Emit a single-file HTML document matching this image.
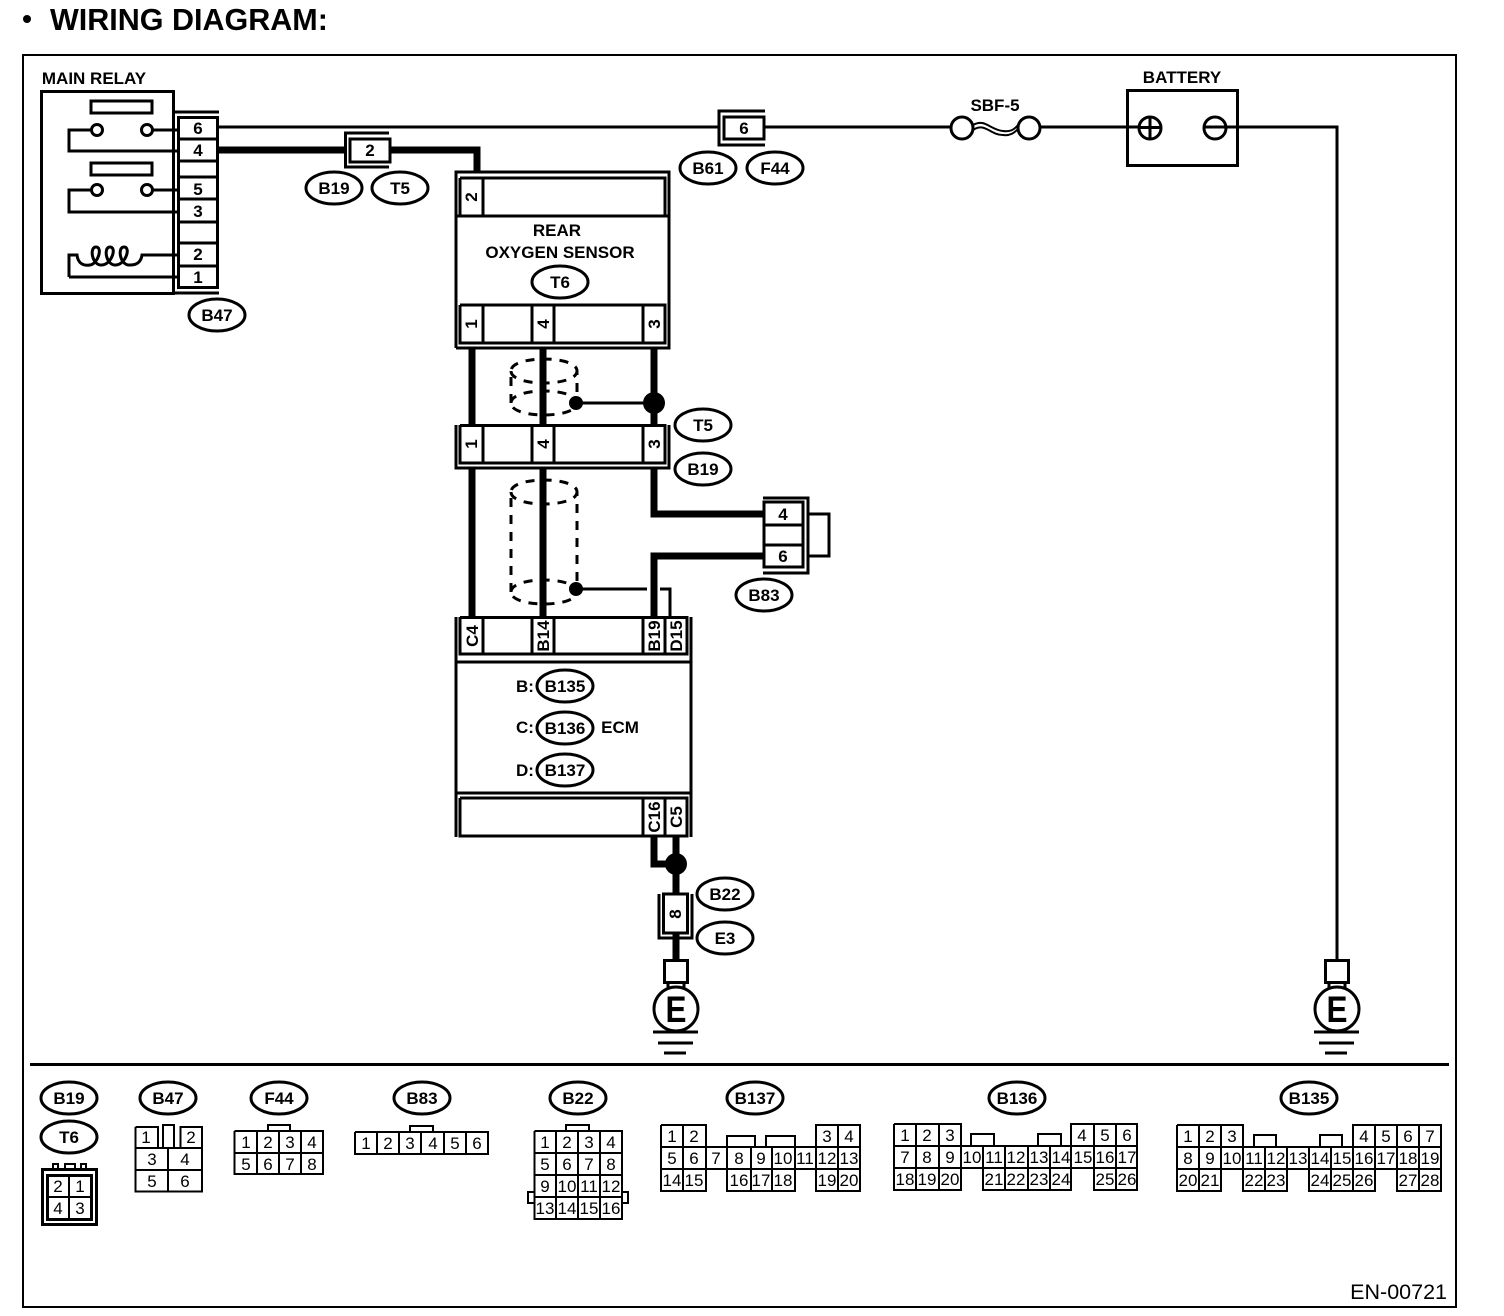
<!DOCTYPE html>
<html><head><meta charset="utf-8"><style>
html,body{margin:0;padding:0;background:#fff}
svg{display:block}
text{font-family:"Liberation Sans",sans-serif;fill:#000;text-anchor:middle}
.b{font-weight:bold;font-size:17px}
.n{font-size:17px}
.s{fill:none;stroke:#000;stroke-width:3}
.t{fill:none;stroke:#000;stroke-width:2}
.w{fill:none;stroke:#000;stroke-width:7}
.d{fill:none;stroke:#000;stroke-width:3;stroke-dasharray:9 8}
ellipse.o{fill:#fff;stroke:#000;stroke-width:3}
</style></head><body>
<svg xmlns="http://www.w3.org/2000/svg" width="1504" height="1316" viewBox="0 0 1504 1316">
<rect width="1504" height="1316" fill="#fff"/>
<circle cx="27" cy="19" r="4"/>
<text x="50" y="30" style="text-anchor:start;font-weight:bold;font-size:30.500px">WIRING DIAGRAM:</text>
<rect x="23" y="55" width="1433" height="1252" class="t"/>
<line x1="30" y1="1064.5" x2="1449" y2="1064.5" stroke="#000" stroke-width="3"/>
<text x="1447" y="1299" style="text-anchor:end;font-size:21.500px">EN-00721</text>

<!-- Wires -->
<path class="s" d="M218 127H720M765 127H950M1039 127H1139M1204 127H1337V960"/>
<path class="w" d="M218 150H346M390 150H477V172"/>
<path class="w" d="M472 348V425M472 469V618M543 348V425M543 469V618M654 348V425"/>
<path class="w" d="M654 469V514H764M764 556H654V618M654 837V864H676M676 837V960"/>
<circle cx="654" cy="403" r="11"/><circle cx="576" cy="403" r="7"/><circle cx="576" cy="589" r="7"/><circle cx="676" cy="864" r="11"/>
<path class="s" d="M576 403H654M576 589H647M660 589H670V618"/>
<path class="d" d="M511 403V371C511 355 577 355 577 371V403M511 371C511 387 577 387 577 371M511 403C511 387 577 387 577 403C577 419 511 419 511 403"/>
<path class="d" d="M511 592V492C511 476 577 476 577 492V592M511 492C511 508 577 508 577 492M511 592C511 576 577 576 577 592C577 608 511 608 511 592"/>

<!-- Main relay -->
<text x="94" y="84" class="b">MAIN RELAY</text>
<rect x="41.500" y="91.500" width="132" height="202" fill="#fff" stroke="#000" stroke-width="3"/>
<rect x="91" y="101" width="61" height="12" class="s"/>
<rect x="91" y="163" width="61" height="12" class="s"/>
<path class="s" d="M92 130H69V151H177M152 130H177M92 190H69V212H177M152 190H177M69 277H177M69 277V255H77C78 264 84 266 90 265C98 264 103 247 96 247C89 247 92 266 102 265C112 264 117 247 110 247C103 247 106 266 116 265C126 264 131 247 124 247C117 247 120 266 130 265C137 265 141 262 142 255H177"/>
<circle cx="97" cy="130" r="5.500" fill="#fff" stroke="#000" stroke-width="3"/><circle cx="147" cy="130" r="5.500" fill="#fff" stroke="#000" stroke-width="3"/>
<circle cx="97" cy="190" r="5.500" fill="#fff" stroke="#000" stroke-width="3"/><circle cx="147" cy="190" r="5.500" fill="#fff" stroke="#000" stroke-width="3"/>
<path class="s" d="M174 112H219M174 293H219"/>
<rect x="178.500" y="117.500" width="39" height="170" fill="#fff" stroke="#000" stroke-width="3"/>
<path class="s" d="M178 139H218M178 161H218M178 177H218M178 199H218M178 222H218M178 243H218M178 266H218"/>
<text x="198" y="134" class="b">6</text><text x="198" y="156" class="b">4</text><text x="198" y="195" class="b">5</text><text x="198" y="217" class="b">3</text><text x="198" y="260" class="b">2</text><text x="198" y="283" class="b">1</text>

<!-- Connector 2 -->
<path class="s" d="M389 133H345.500V167H389"/>
<rect x="350" y="139" width="40" height="23" fill="#fff" stroke="#000" stroke-width="3"/>
<text x="370" y="156" class="b">2</text>
<!-- Connector 6 -->
<path class="s" d="M765 111H719V145H765"/>
<rect x="724" y="117" width="40" height="22" fill="#fff" stroke="#000" stroke-width="3"/>
<text x="744" y="134" class="b">6</text>

<!-- Fuse -->
<circle cx="962" cy="128" r="11" fill="#fff" stroke="#000" stroke-width="3"/>
<circle cx="1029" cy="128" r="11" fill="#fff" stroke="#000" stroke-width="3"/>
<path class="t" d="M973 125C985 118 990 130 1003 131C1010 132 1014 130 1018 125M973 130C985 122 990 135 1003 135C1010 136 1014 133 1018 129"/>
<text x="995" y="111" class="b">SBF-5</text>
<!-- Battery -->
<text x="1182" y="83" class="b">BATTERY</text>
<rect x="1127.500" y="90.500" width="110" height="75" class="s"/>
<circle cx="1150" cy="128" r="11" class="s"/><path class="s" d="M1150 117V139M1139 127.500H1161"/>
<circle cx="1215" cy="128" r="11" class="s"/>

<!-- Rear O2 sensor -->
<path class="s" d="M456 348V172H669V348H456M460 178H665V216H460V178M483 178V216M456 216H669M460 305H665V343H460V305M483 305V343M532 305V343M554 305V343M643 305V343"/>
<text class="b" transform="translate(471 197) rotate(-90)" y="6">2</text>
<text x="557" y="236" class="b">REAR</text>
<text x="560" y="258" class="b">OXYGEN SENSOR</text>
<text class="b" transform="translate(471 324) rotate(-90)" y="6">1</text>
<text class="b" transform="translate(543 324) rotate(-90)" y="6">4</text>
<text class="b" transform="translate(654 324) rotate(-90)" y="6">3</text>

<!-- T5/B19 -->
<path class="s" d="M456 425V468H669V425M460 425.500H665V463H460V425M483 425V463M532 425V463M554 425V463M643 425V463"/>
<text class="b" transform="translate(471 444) rotate(-90)" y="6">1</text>
<text class="b" transform="translate(543 444) rotate(-90)" y="6">4</text>
<text class="b" transform="translate(654 444) rotate(-90)" y="6">3</text>

<!-- B83 -->
<path class="s" d="M763 498H808V573H763"/>
<rect x="764" y="502" width="39" height="65" fill="#fff" stroke="#000" stroke-width="3"/>
<path class="s" d="M764 525H803M764 545H803"/>
<rect x="808" y="514" width="21" height="42" class="s"/>
<text x="783" y="520" class="b">4</text><text x="783" y="562" class="b">6</text>

<!-- ECM -->
<path class="s" d="M456 617V837M691 617V837M456 662H691M456 793H691"/>
<path class="s" d="M460 617.500H687V654H460V617M483 617V654M532 617V654M554 617V654M643 617V654M665 617V654"/>
<path class="s" d="M460 798H687V836H460V798M643 798V836M665 798V836"/>
<text class="b" transform="translate(472 636) rotate(-90)" y="6">C4</text>
<text class="b" transform="translate(543 636) rotate(-90)" y="6">B14</text>
<text class="b" transform="translate(654 636) rotate(-90)" y="6">B19</text>
<text class="b" transform="translate(676 636) rotate(-90)" y="6">D15</text>
<text class="b" transform="translate(654 817) rotate(-90)" y="6">C16</text>
<text class="b" transform="translate(676 817) rotate(-90)" y="6">C5</text>
<text x="525" y="692" class="b">B:</text><text x="525" y="733" class="b">C:</text><text x="525" y="776" class="b">D:</text>
<text x="620" y="733" class="b">ECM</text>

<!-- Connector 8 -->
<path class="s" d="M659 894V938H692V894"/>
<rect x="663.500" y="894" width="24" height="39" fill="#fff" stroke="#000" stroke-width="3"/>
<text class="b" transform="translate(675 914) rotate(-90)" y="6">8</text>

<!-- Grounds -->
<rect x="664.500" y="960.500" width="23" height="22" fill="#fff" stroke="#000" stroke-width="3"/>
<path class="s" d="M668 982V990M684 982V990"/>
<circle cx="676" cy="1009" r="22" fill="#fff" stroke="#000" stroke-width="3"/>
<text transform="translate(676 1022) scale(.85 1)" style="font-weight:bold;font-size:37px">E</text>
<path class="s" d="M653 1032H698M658 1043H693M664 1053H686"/>
<rect x="1325.500" y="960.500" width="23" height="22" fill="#fff" stroke="#000" stroke-width="3"/>
<path class="s" d="M1329 982V990M1345 982V990"/>
<circle cx="1337" cy="1009" r="22" fill="#fff" stroke="#000" stroke-width="3"/>
<text transform="translate(1337 1022) scale(.85 1)" style="font-weight:bold;font-size:37px">E</text>
<path class="s" d="M1314 1032H1359M1319 1043H1354M1325 1053H1347"/>

<!-- Ovals -->
<ellipse class="o" cx="334" cy="188" rx="28" ry="16"/><text x="334" y="194" class="b">B19</text>
<ellipse class="o" cx="400" cy="188" rx="28" ry="16"/><text x="400" y="194" class="b">T5</text>
<ellipse class="o" cx="217" cy="315" rx="28" ry="16"/><text x="217" y="321" class="b">B47</text>
<ellipse class="o" cx="708" cy="168" rx="28" ry="16"/><text x="708" y="174" class="b">B61</text>
<ellipse class="o" cx="775" cy="168" rx="28" ry="16"/><text x="775" y="174" class="b">F44</text>
<ellipse class="o" cx="560" cy="282" rx="28" ry="16"/><text x="560" y="288" class="b">T6</text>
<ellipse class="o" cx="703" cy="425" rx="28" ry="16"/><text x="703" y="431" class="b">T5</text>
<ellipse class="o" cx="703" cy="469" rx="28" ry="16"/><text x="703" y="475" class="b">B19</text>
<ellipse class="o" cx="764" cy="595" rx="28" ry="16"/><text x="764" y="601" class="b">B83</text>
<ellipse class="o" cx="565" cy="686" rx="28" ry="16"/><text x="565" y="692" class="b">B135</text>
<ellipse class="o" cx="565" cy="728" rx="28" ry="16"/><text x="565" y="734" class="b">B136</text>
<ellipse class="o" cx="565" cy="770" rx="28" ry="16"/><text x="565" y="776" class="b">B137</text>
<ellipse class="o" cx="725" cy="894" rx="28" ry="16"/><text x="725" y="900" class="b">B22</text>
<ellipse class="o" cx="725" cy="938" rx="28" ry="16"/><text x="725" y="944" class="b">E3</text>
<ellipse class="o" cx="69" cy="1098" rx="28" ry="16"/><text x="69" y="1104" class="b">B19</text>
<ellipse class="o" cx="69" cy="1137" rx="28" ry="16"/><text x="69" y="1143" class="b">T6</text>
<ellipse class="o" cx="168" cy="1098" rx="28" ry="16"/><text x="168" y="1104" class="b">B47</text>
<ellipse class="o" cx="279" cy="1098" rx="28" ry="16"/><text x="279" y="1104" class="b">F44</text>
<ellipse class="o" cx="422" cy="1098" rx="28" ry="16"/><text x="422" y="1104" class="b">B83</text>
<ellipse class="o" cx="578" cy="1098" rx="28" ry="16"/><text x="578" y="1104" class="b">B22</text>
<ellipse class="o" cx="755" cy="1098" rx="28" ry="16"/><text x="755" y="1104" class="b">B137</text>
<ellipse class="o" cx="1017" cy="1098" rx="28" ry="16"/><text x="1017" y="1104" class="b">B136</text>
<ellipse class="o" cx="1309" cy="1098" rx="28" ry="16"/><text x="1309" y="1104" class="b">B135</text>

<!-- T6 view -->
<rect x="42.500" y="1169.500" width="54" height="55" class="s"/>
<rect x="47.500" y="1175.500" width="44" height="44" class="s"/>
<path class="t" d="M69 1175V1220M47 1197H92M53 1169V1164H58V1169M65 1169V1164H75V1169M81 1169V1164H86V1169"/>
<text x="58" y="1192" class="n">2</text><text x="80" y="1192" class="n">1</text><text x="58" y="1214" class="n">4</text><text x="80" y="1214" class="n">3</text>

<!-- B47 view -->
<path class="t" d="M135.500 1127H158V1148M135.500 1127V1191.500H202V1127H180.500V1148M135 1148H202M135 1170H202M168 1148V1191M163 1148V1125H174V1148"/>
<text x="146" y="1143" class="n">1</text><text x="191" y="1143" class="n">2</text><text x="152" y="1165" class="n">3</text><text x="185" y="1165" class="n">4</text><text x="152" y="1187" class="n">5</text><text x="185" y="1187" class="n">6</text>

<!-- F44 view -->
<path class="t" d="M234.500 1131H323V1174H234.500V1131M234 1153H323M257 1131V1174M279 1131V1174M301 1131V1174M268 1131V1125H290V1131"/>
<text x="246" y="1148" class="n">1</text><text x="268" y="1148" class="n">2</text><text x="290" y="1148" class="n">3</text><text x="312" y="1148" class="n">4</text>
<text x="246" y="1170" class="n">5</text><text x="268" y="1170" class="n">6</text><text x="290" y="1170" class="n">7</text><text x="312" y="1170" class="n">8</text>

<!-- B83 view -->
<path class="t" d="M355 1132H488V1154H355V1132M377 1132V1154M399 1132V1154M421 1132V1154M444 1132V1154M466 1132V1154M410 1132V1126H433V1132"/>
<text x="366" y="1149" class="n">1</text><text x="388" y="1149" class="n">2</text><text x="410" y="1149" class="n">3</text><text x="433" y="1149" class="n">4</text><text x="455" y="1149" class="n">5</text><text x="477" y="1149" class="n">6</text>

<!-- B22 view -->
<path class="t" d="M534.500 1131H622V1219H534.500V1131M534 1153H622M534 1175H622M534 1197H622M556 1131V1219M578 1131V1219M600 1131V1219M566 1131V1125H589V1131M534 1192H528V1203H534M622 1192H628V1203H622"/>
<text x="545" y="1148" class="n">1</text><text x="567" y="1148" class="n">2</text><text x="589" y="1148" class="n">3</text><text x="611" y="1148" class="n">4</text>
<text x="545" y="1170" class="n">5</text><text x="567" y="1170" class="n">6</text><text x="589" y="1170" class="n">7</text><text x="611" y="1170" class="n">8</text>
<text x="545" y="1192" class="n">9</text><text x="567" y="1192" class="n">10</text><text x="589" y="1192" class="n">11</text><text x="611" y="1192" class="n">12</text>
<text x="545" y="1214" class="n">13</text><text x="567" y="1214" class="n">14</text><text x="589" y="1214" class="n">15</text><text x="611" y="1214" class="n">16</text>

<!-- B137 view -->
<path class="t" d="M661 1125H706V1147M816 1147V1125H860V1191H816V1169M661 1125V1191H706V1169M727 1169V1191H795V1169M661 1147H860M661 1169H860M683 1125V1191M706 1147V1169M727 1147V1169M751 1147V1191M772 1147V1191M795 1147V1169M816 1147V1169M838 1125V1191M727 1147V1136H755V1147M766 1147V1136H795V1147"/>
<text x="672" y="1142" class="n">1</text><text x="694" y="1142" class="n">2</text><text x="827" y="1142" class="n">3</text><text x="849" y="1142" class="n">4</text>
<text x="672" y="1164" class="n">5</text><text x="694" y="1164" class="n">6</text><text x="716" y="1164" class="n">7</text><text x="739" y="1164" class="n">8</text><text x="761" y="1164" class="n">9</text><text x="783" y="1164" class="n">10</text><text x="805" y="1164" class="n">11</text><text x="827" y="1164" class="n">12</text><text x="849" y="1164" class="n">13</text>
<text x="672" y="1186" class="n">14</text><text x="694" y="1186" class="n">15</text><text x="739" y="1186" class="n">16</text><text x="761" y="1186" class="n">17</text><text x="783" y="1186" class="n">18</text><text x="827" y="1186" class="n">19</text><text x="849" y="1186" class="n">20</text>

<!-- B136 view -->
<path class="t" d="M894 1124H961V1146M1071 1146V1124H1137V1190H1094V1168M894 1124V1190H961V1168M983 1168V1190H1071V1168M894 1146H1137M894 1168H1137M916 1124V1190M939 1124V1190M961 1146V1168M983 1146V1168M1005 1146V1190M1028 1146V1190M1050 1146V1190M1071 1146V1168M1094 1124V1168M1116 1124V1190M971 1146V1134H994V1146M1038 1146V1134H1061V1146"/>
<text x="905" y="1141" class="n">1</text><text x="927" y="1141" class="n">2</text><text x="950" y="1141" class="n">3</text><text x="1082" y="1141" class="n">4</text><text x="1105" y="1141" class="n">5</text><text x="1127" y="1141" class="n">6</text>
<text x="905" y="1163" class="n">7</text><text x="927" y="1163" class="n">8</text><text x="950" y="1163" class="n">9</text><text x="972" y="1163" class="n">10</text><text x="994" y="1163" class="n">11</text><text x="1016" y="1163" class="n">12</text><text x="1039" y="1163" class="n">13</text><text x="1061" y="1163" class="n">14</text><text x="1083" y="1163" class="n">15</text><text x="1105" y="1163" class="n">16</text><text x="1127" y="1163" class="n">17</text>
<text x="905" y="1185" class="n">18</text><text x="927" y="1185" class="n">19</text><text x="950" y="1185" class="n">20</text><text x="994" y="1185" class="n">21</text><text x="1016" y="1185" class="n">22</text><text x="1039" y="1185" class="n">23</text><text x="1061" y="1185" class="n">24</text><text x="1105" y="1185" class="n">25</text><text x="1127" y="1185" class="n">26</text>

<!-- B135 view -->
<path class="t" d="M1177 1125H1243V1147M1353 1147V1125H1441V1191H1397V1169M1177 1125V1191H1221V1169M1243 1169V1191H1287V1169M1309 1169V1191H1375V1169M1177 1147H1441M1177 1169H1441M1199 1125V1191M1221 1125V1169M1243 1147V1169M1265 1147V1191M1287 1147V1169M1309 1147V1169M1331 1147V1191M1353 1147V1191M1375 1125V1169M1397 1125V1169M1419 1125V1191M1254 1147V1135H1276V1147M1320 1147V1135H1342V1147"/>
<text x="1188" y="1142" class="n">1</text><text x="1210" y="1142" class="n">2</text><text x="1232" y="1142" class="n">3</text><text x="1364" y="1142" class="n">4</text><text x="1386" y="1142" class="n">5</text><text x="1408" y="1142" class="n">6</text><text x="1430" y="1142" class="n">7</text>
<text x="1188" y="1164" class="n">8</text><text x="1210" y="1164" class="n">9</text><text x="1232" y="1164" class="n">10</text><text x="1254" y="1164" class="n">11</text><text x="1276" y="1164" class="n">12</text><text x="1298" y="1164" class="n">13</text><text x="1320" y="1164" class="n">14</text><text x="1342" y="1164" class="n">15</text><text x="1364" y="1164" class="n">16</text><text x="1386" y="1164" class="n">17</text><text x="1408" y="1164" class="n">18</text><text x="1430" y="1164" class="n">19</text>
<text x="1188" y="1186" class="n">20</text><text x="1210" y="1186" class="n">21</text><text x="1254" y="1186" class="n">22</text><text x="1276" y="1186" class="n">23</text><text x="1320" y="1186" class="n">24</text><text x="1342" y="1186" class="n">25</text><text x="1364" y="1186" class="n">26</text><text x="1408" y="1186" class="n">27</text><text x="1430" y="1186" class="n">28</text>
</svg>
</body></html>
